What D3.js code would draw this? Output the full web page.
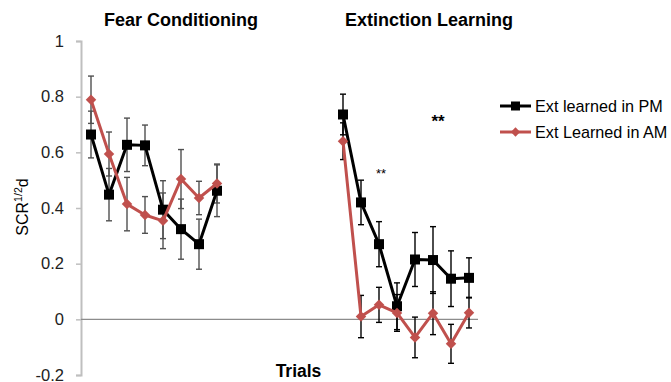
<!DOCTYPE html>
<html>
<head>
<meta charset="utf-8">
<script src="https://cdn.jsdelivr.net/npm/d3@7"></script>
<style>
  body { margin: 0; background: #fff; }
  text { font-family: "Liberation Sans", Arial, sans-serif; }
</style>
</head>
<body>
<div id="chart"></div>
<script>
// trial slots: 0-7 fear conditioning, 14-21 extinction, 8-13 empty gap
var slots = d3.range(22);
var yTicks = [-0.2, 0, 0.2, 0.4, 0.6, 0.8, 1];

var pmValues = [0.664, 0.448, 0.627, 0.625, 0.394, 0.324, 0.27, 0.462,
  null, null, null, null, null, null,
  0.736, 0.42, 0.27, 0.047, 0.215, 0.213, 0.146, 0.149];
var pmErrors = [0.084, 0.094, 0.096, 0.073, 0.104, 0.108, 0.09, 0.093,
  null, null, null, null, null, null,
  0.073, 0.08, 0.081, 0.084, 0.097, 0.12, 0.1, 0.072];

var amValues = [0.789, 0.594, 0.414, 0.375, 0.354, 0.504, 0.436, 0.488,
  null, null, null, null, null, null,
  0.64, 0.01, 0.052, 0.023, -0.065, 0.022, -0.088, 0.024];
var amErrors = [0.085, 0.079, 0.096, 0.066, 0.1, 0.106, 0.06, 0.07,
  null, null, null, null, null, null,
  0.066, 0.076, 0.063, 0.066, 0.073, 0.077, 0.07, 0.055];

var width = 671, height = 382;

var svg = d3.select("#chart").append("svg")
  .attr("width", width)
  .attr("height", height);

var x = d3.scaleBand().domain(slots).range([82, 478]);
var y = d3.scaleLinear().domain([-0.2, 1]).range([375, 41]);
var cx = function(i) { return x(i) + x.bandwidth() / 2; };

// y axis
var yAxis = d3.axisLeft(y).tickValues(yTicks).tickSize(5).tickPadding(12)
  .tickFormat(function(d) { return String(+d.toFixed(1)); });
var ga = svg.append("g").attr("transform", "translate(81,0)").call(yAxis);
ga.select(".domain").attr("stroke", "#bfbfbf").attr("stroke-width", 2);
ga.selectAll(".tick line").attr("stroke", "#bfbfbf").attr("stroke-width", 1.5);
ga.selectAll(".tick text").attr("font-size", 16.5).attr("fill", "#222")
  .attr("font-family", "Liberation Sans, Arial, sans-serif");

// zero line
svg.append("line")
  .attr("x1", 81).attr("x2", 478)
  .attr("y1", y(0)).attr("y2", y(0))
  .attr("stroke", "#8c8c8c").attr("stroke-width", 1.2);

// error bars
function drawErrors(vals, errs) {
  var pts = slots.filter(function(i) { return vals[i] != null; });
  var g = svg.append("g");
  pts.forEach(function(i) {
    var col = i < 8 ? "#505050" : "#000";
    var x0 = cx(i), top = y(vals[i] + errs[i]), bot = y(vals[i] - errs[i]);
    g.append("line").attr("x1", x0).attr("x2", x0).attr("y1", top).attr("y2", bot)
      .attr("stroke", col).attr("stroke-width", 1.4);
    [top, bot].forEach(function(yy) {
      g.append("line").attr("x1", x0 - 3).attr("x2", x0 + 3).attr("y1", yy).attr("y2", yy)
        .attr("stroke", col).attr("stroke-width", 1.4);
    });
  });
}
drawErrors(pmValues, pmErrors);
drawErrors(amValues, amErrors);

var line = d3.line()
  .defined(function(d, i) { return d != null; })
  .x(function(d, i) { return cx(i); })
  .y(function(d) { return y(d); });

// PM series (black squares)
svg.append("path").datum(pmValues)
  .attr("d", line).attr("fill", "none")
  .attr("stroke", "#000").attr("stroke-width", 3).attr("stroke-linejoin", "round");
svg.selectAll(".pm").data(slots.filter(function(i) { return pmValues[i] != null; }))
  .enter().append("rect").attr("class", "pm")
  .attr("x", function(i) { return cx(i) - 5; })
  .attr("y", function(i) { return y(pmValues[i]) - 5; })
  .attr("width", 10).attr("height", 10).attr("fill", "#000");

// AM series (red diamonds)
svg.append("path").datum(amValues)
  .attr("d", line).attr("fill", "none")
  .attr("stroke", "#c0504d").attr("stroke-width", 3).attr("stroke-linejoin", "round");
var diamond = d3.symbol().type(d3.symbolDiamond2).size(70);
svg.selectAll(".am").data(slots.filter(function(i) { return amValues[i] != null; }))
  .enter().append("path").attr("class", "am")
  .attr("d", diamond)
  .attr("transform", function(i) { return "translate(" + cx(i) + "," + y(amValues[i]) + ")"; })
  .attr("fill", "#c0504d");

// titles
svg.append("text").attr("x", 104).attr("y", 26).attr("font-size", 18)
  .attr("font-weight", "bold").text("Fear Conditioning");
svg.append("text").attr("x", 345).attr("y", 26).attr("font-size", 18)
  .attr("font-weight", "bold").text("Extinction Learning");
svg.append("text").attr("x", 298.5).attr("y", 377).attr("font-size", 17.5)
  .attr("font-weight", "bold").attr("text-anchor", "middle").text("Trials");

// significance stars
svg.append("text").attr("x", 381).attr("y", 178).attr("font-size", 13)
  .attr("text-anchor", "middle").text("**");
svg.append("text").attr("x", 438).attr("y", 127).attr("font-size", 17)
  .attr("font-weight", "bold").attr("text-anchor", "middle").text("**");

// y label
var yl = svg.append("text").attr("transform", "translate(28,207) rotate(-90)")
  .attr("text-anchor", "middle").attr("font-size", 16);
yl.append("tspan").text("SCR");
yl.append("tspan").attr("font-size", 10.5).attr("dy", -6).text("1/2");
yl.append("tspan").attr("dy", 6).text("d");

// legend
var legend = [
  { name: "Ext learned in PM", color: "#000", shape: "square" },
  { name: "Ext Learned in AM", color: "#c0504d", shape: "diamond" }
];
legend.forEach(function(d, k) {
  var ly = 106 + k * 26;
  svg.append("line").attr("x1", 500).attr("x2", 531).attr("y1", ly).attr("y2", ly)
    .attr("stroke", d.color).attr("stroke-width", 3);
  if (d.shape == "square") {
    svg.append("rect").attr("x", 511).attr("y", ly - 4.5).attr("width", 9).attr("height", 9)
      .attr("fill", d.color);
  } else {
    svg.append("path").attr("d", d3.symbol().type(d3.symbolDiamond2).size(55))
      .attr("transform", "translate(515.5," + ly + ")").attr("fill", d.color);
  }
  svg.append("text").attr("x", 535).attr("y", ly + 6).attr("font-size", 16.2)
    .text(d.name);
});
</script>
</body>
</html>
